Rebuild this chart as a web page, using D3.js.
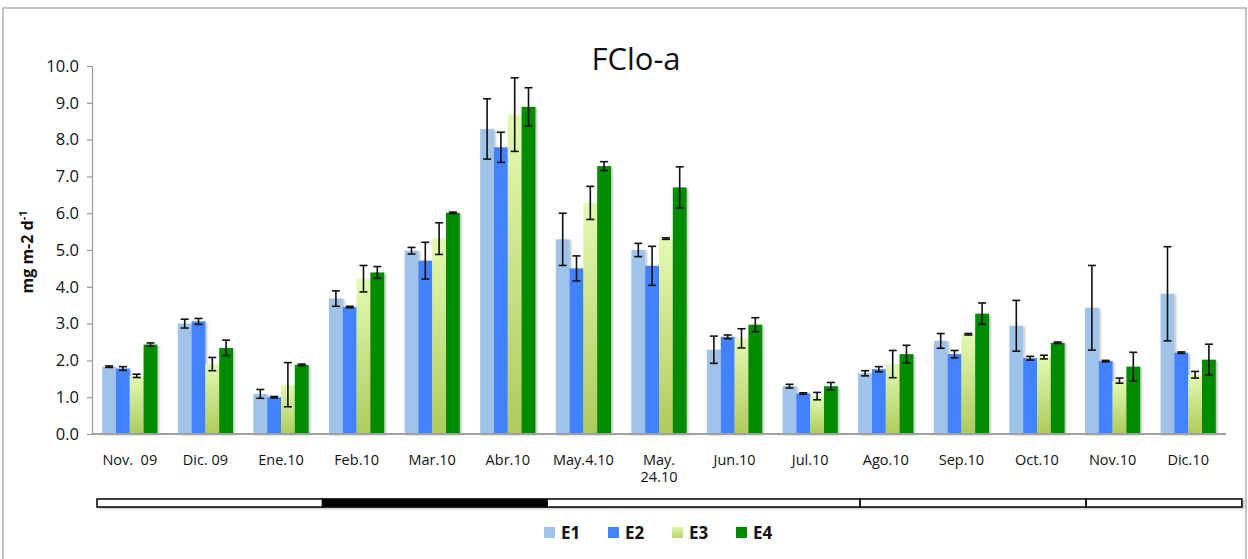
<!DOCTYPE html>
<html>
<head>
<meta charset="utf-8">
<script src="https://cdn.jsdelivr.net/npm/d3@7"></script>
<style>
  html, body { margin: 0; padding: 0; background: #fff; }
  svg { display: block; }
  text { font-family: "Open Sans", "Liberation Sans", sans-serif; fill: #111; }
</style>
</head>
<body>
<svg id="chart" width="1248" height="559"></svg>
<script>
// Monthly chlorophyll-a flux per station (mg m-2 d-1), mean and error
const categories = ["Nov.  09", "Dic. 09", "Ene.10", "Feb.10", "Mar.10", "Abr.10", "May.4.10",
  "May.\n24.10", "Jun.10", "Jul.10", "Ago.10", "Sep.10", "Oct.10", "Nov.10", "Dic.10"];
const seriesNames = ["E1", "E2", "E3", "E4"];

const valuesE1 = [1.83, 3.00, 1.09, 3.68, 4.98, 8.29, 5.29, 5.00, 2.29, 1.30, 1.65, 2.53, 2.94, 3.43, 3.81];
const valuesE2 = [1.78, 3.06, 1.00, 3.45, 4.71, 7.79, 4.50, 4.57, 2.64, 1.10, 1.76, 2.17, 2.06, 1.98, 2.21];
const valuesE3 = [1.58, 1.90, 1.34, 4.22, 5.31, 8.68, 6.28, 5.31, 2.60, 1.03, 1.90, 2.71, 2.09, 1.45, 1.61];
const valuesE4 = [2.43, 2.34, 1.88, 4.39, 6.01, 8.89, 7.28, 6.70, 2.97, 1.30, 2.17, 3.27, 2.48, 1.83, 2.02];

const errorsE1 = [0.02, 0.12, 0.12, 0.21, 0.09, 0.82, 0.71, 0.18, 0.37, 0.05, 0.07, 0.20, 0.69, 1.15, 1.28];
const errorsE2 = [0.05, 0.08, 0.02, 0.02, 0.50, 0.41, 0.34, 0.53, 0.05, 0.02, 0.07, 0.10, 0.05, 0.02, 0.02];
const errorsE3 = [0.045, 0.18, 0.60, 0.36, 0.43, 1.00, 0.45, 0.02, 0.26, 0.10, 0.37, 0.02, 0.05, 0.07, 0.09];
const errorsE4 = [0.045, 0.21, 0.02, 0.16, 0.02, 0.52, 0.12, 0.56, 0.19, 0.10, 0.24, 0.29, 0.02, 0.39, 0.42];

const yTicks = [0, 1, 2, 3, 4, 5, 6, 7, 8, 9, 10];

// Season strip under the axis: boundaries in category units, and fill of each segment
const stripBounds = [0.066, 3.05, 6.02, 10.16, 13.15, 15.21];
const stripFills = ["#fff", "#000", "#fff", "#fff", "#fff"];

const seriesValues = [valuesE1, valuesE2, valuesE3, valuesE4];
const seriesErrors = [errorsE1, errorsE2, errorsE3, errorsE4];
const colors = ["#a0c3ea", "#4282ff", "url(#gradE3)", "#008c00"];
const legendColors = ["#a0c3ea", "#4282ff", "url(#gradE3L)", "#008c00"];

const svg = d3.select("#chart");
const margin = { left: 92, right: 22, top: 66, bottom: 125 };
const W = 1248, H = 559;

const defs = svg.append("defs");
const g3 = defs.append("linearGradient").attr("id", "gradE3").attr("x1", 0).attr("y1", 0).attr("x2", 0).attr("y2", 1);
g3.append("stop").attr("offset", "0%").attr("stop-color", "#e3fab2");
g3.append("stop").attr("offset", "100%").attr("stop-color", "#aecb5c");
const g3l = defs.append("linearGradient").attr("id", "gradE3L").attr("x1", 0).attr("y1", 0).attr("x2", 0).attr("y2", 1);
g3l.append("stop").attr("offset", "0%").attr("stop-color", "#e0f7aa");
g3l.append("stop").attr("offset", "100%").attr("stop-color", "#b6d46a");
const sh = defs.append("filter").attr("id", "shadow").attr("x", "-20%").attr("y", "-20%").attr("width", "160%").attr("height", "160%");
sh.append("feDropShadow").attr("dx", 1.5).attr("dy", 1).attr("stdDeviation", 1.2)
  .attr("flood-color", "#000").attr("flood-opacity", 0.28);

// Outer frame
svg.append("rect").attr("x", 3).attr("y", 8).attr("width", 1243).attr("height", 560)
  .attr("fill", "none").attr("stroke", "#b0b0b0").attr("stroke-width", 1.5);

const x0 = d3.scaleBand().domain(categories).range([margin.left, W - margin.right])
  .paddingInner(0.27).paddingOuter(0.135);
const x1 = d3.scaleBand().domain(seriesNames).range([0, x0.bandwidth()]);
const y = d3.scaleLinear().domain([0, 10]).range([434, 66]);

// Title
svg.append("text").attr("x", 636).attr("y", 70).attr("text-anchor", "middle")
  .style("font-size", "31px").text("FClo-a");

// Y axis
const yAxis = svg.append("g").attr("transform", `translate(${margin.left},0)`)
  .call(d3.axisLeft(y).tickValues(yTicks).tickFormat(d3.format(".1f")).tickSize(5).tickPadding(8));
yAxis.select(".domain").attr("stroke", "#9a9a9a").attr("stroke-width", 1.2);
yAxis.selectAll(".tick line").attr("stroke", "#9a9a9a").attr("stroke-width", 1.2);
yAxis.selectAll(".tick text").style("font-size", "16.5px").style("font-family", "'Open Sans', sans-serif").attr("fill", "#111");

// Y label
const yl = svg.append("text").attr("transform", "translate(33,252) rotate(-90)")
  .attr("text-anchor", "middle").style("font-size", "16px").style("font-weight", "bold");
yl.append("tspan").text("mg m-2 d");
yl.append("tspan").attr("dy", -6).style("font-size", "11px").text("-1");

// Bars
const groups = svg.append("g").selectAll("g").data(categories).join("g")
  .attr("transform", d => `translate(${x0(d)},0)`);

const barData = (c, i) => seriesNames.map((s, k) => ({ s, k, v: seriesValues[k][i], e: seriesErrors[k][i] }));

groups.each(function (c, i) {
  const gg = d3.select(this);
  const data = barData(c, i);
  gg.selectAll("rect").data(data).join("rect")
    .attr("x", d => x1(d.s))
    .attr("y", d => y(d.v))
    .attr("width", x1.bandwidth())
    .attr("height", d => y(0) - y(d.v))
    .attr("fill", d => colors[d.k])
    .attr("filter", "url(#shadow)");
});

// X axis baseline
svg.append("line").attr("x1", margin.left).attr("x2", W - margin.right)
  .attr("y1", y(0)).attr("y2", y(0)).attr("stroke", "#a0a0a0").attr("stroke-width", 2);

// Error bars
groups.each(function (c, i) {
  const gg = d3.select(this);
  const data = barData(c, i);
  const eb = gg.selectAll("g.err").data(data).join("g").attr("class", "err")
    .attr("transform", d => `translate(${x1(d.s) + x1.bandwidth() / 2},0)`);
  eb.append("line").attr("y1", d => y(d.v + d.e)).attr("y2", d => y(d.v - d.e))
    .attr("stroke", "#111").attr("stroke-width", 1.6);
  eb.append("line").attr("x1", -4).attr("x2", 4).attr("y1", d => y(d.v + d.e)).attr("y2", d => y(d.v + d.e))
    .attr("stroke", "#111").attr("stroke-width", 1.6);
  eb.append("line").attr("x1", -4).attr("x2", 4).attr("y1", d => y(d.v - d.e)).attr("y2", d => y(d.v - d.e))
    .attr("stroke", "#111").attr("stroke-width", 1.6);
});

// X labels (multi-line where needed)
categories.forEach(c => {
  const lines = c.split("\n");
  const t = svg.append("text").attr("x", x0(c) + x0.bandwidth() / 2).attr("y", 465)
    .attr("text-anchor", "middle").style("font-size", "14.5px").style("white-space", "pre");
  lines.forEach((ln, j) => {
    t.append("tspan").attr("x", x0(c) + x0.bandwidth() / 2).attr("dy", j === 0 ? 0 : 17).text(ln);
  });
});

// Season strip
const sx = d3.scaleLinear().domain([0, categories.length]).range([margin.left, W - margin.right]);
const strip = svg.append("g").attr("filter", "url(#shadow)");
stripFills.forEach((f, k) => {
  strip.append("rect")
    .attr("x", sx(stripBounds[k])).attr("y", 499)
    .attr("width", sx(stripBounds[k + 1]) - sx(stripBounds[k])).attr("height", 8)
    .attr("fill", f).attr("stroke", "#000").attr("stroke-width", 1.5);
});

// Legend
const legend = svg.append("g").attr("transform", "translate(544,527)");
seriesNames.forEach((s, k) => {
  const lg = legend.append("g").attr("transform", `translate(${k * 64},0)`);
  lg.append("rect").attr("width", 11).attr("height", 11).attr("fill", legendColors[k]);
  lg.append("text").attr("x", 17).attr("y", 12).style("font-size", "17px").style("font-weight", "bold").text(s);
});
</script>
</body>
</html>
